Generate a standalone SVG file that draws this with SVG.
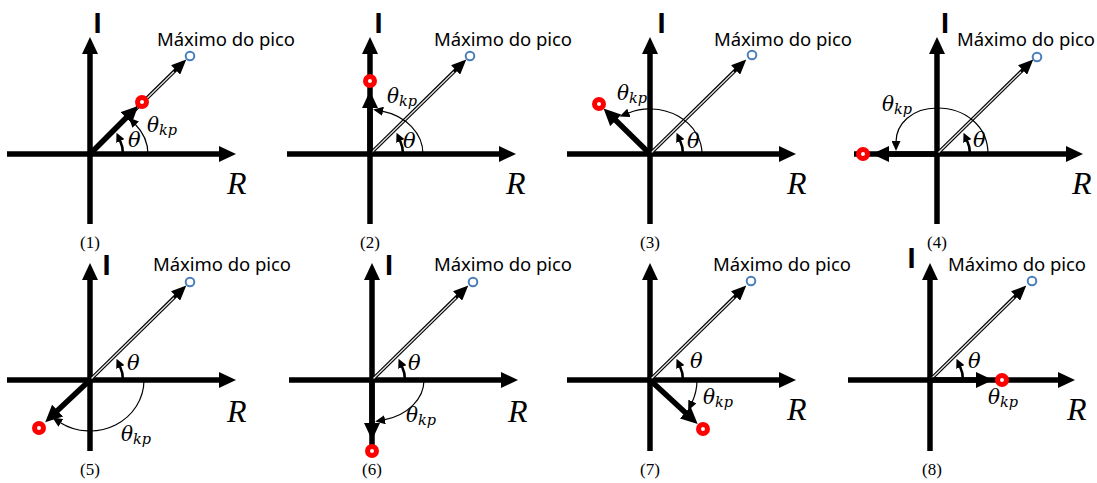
<svg xmlns="http://www.w3.org/2000/svg" width="1097" height="483" viewBox="0 0 1097 483">
<style>
.axis{stroke:#000;stroke-width:5.5;fill:none;marker-end:url(#ah)}
.vec{stroke:#000;stroke-width:5.5;fill:none;marker-end:url(#ah)}
.dblo{stroke:#000;stroke-width:3.6;fill:none;marker-end:url(#dh)}
.dbli{stroke:#e6e6e6;stroke-width:1.3;fill:none}
.th{stroke:#000;stroke-width:2.5;fill:none;marker-end:url(#sh)}
.thkp{stroke:#000;stroke-width:1.2;fill:none;marker-end:url(#kh)}
.peak{fill:#fff;stroke:#4a7ebb;stroke-width:2}
.pt{fill:#fff;stroke:#ff0000;stroke-width:5}
.lI{font-family:"Liberation Sans",sans-serif;font-size:29px;font-weight:bold;text-anchor:middle}
.pk{font-family:"Noto Sans","Liberation Sans",sans-serif;font-size:18.5px}
.R{font-family:"Liberation Serif",serif;font-style:italic;font-size:32px}
.num{font-family:"Liberation Serif",serif;font-size:17px;text-anchor:middle}
.g1{font-family:"DejaVu Serif","Liberation Serif",serif;font-style:italic;font-size:21px}
.g2{font-family:"DejaVu Serif","Liberation Serif",serif;font-style:italic;font-size:20px}
.sub{font-size:14.5px}
</style>
<defs>
<marker id="ah" viewBox="0 0 17 16" refX="3" refY="8" markerWidth="17" markerHeight="16" markerUnits="userSpaceOnUse" orient="auto"><path d="M0,0 L17,8 L0,16 z" fill="#000"/></marker>
<marker id="dh" viewBox="0 0 15 13" refX="2" refY="6.5" markerWidth="15" markerHeight="13" markerUnits="userSpaceOnUse" orient="auto"><path d="M0,0 L15,6.5 L0,13 z" fill="#000"/></marker>
<marker id="sh" viewBox="0 0 9 9" refX="1" refY="4.5" markerWidth="9" markerHeight="9" markerUnits="userSpaceOnUse" orient="auto"><path d="M0,0 L9,4.5 L0,9 z" fill="#000"/></marker>
<marker id="kh" viewBox="0 0 10 9" refX="1" refY="4.5" markerWidth="10" markerHeight="9" markerUnits="userSpaceOnUse" orient="auto"><path d="M0,0 L10,4.5 L0,9 z" fill="#000"/></marker>
</defs>
<rect width="1097" height="483" fill="#fff"/>

<!-- Panel 1 -->
<g id="panel1" transform="translate(90,154)">
<g id="p1-connectors">
<path class="axis" d="M0,70 L0,-103"/>
<path class="axis" d="M-83,0 L132,0"/>
<path class="dblo" d="M0,0 L87,-85.4"/>
<path class="dbli" d="M1.5,-1.5 L84,-82.3"/>
<path class="vec" d="M0,0 L38.2,-38.2"/>
<path class="th" d="M33,0 A33,33 0 0 0 29.9,-13.9"/>
<path class="thkp" d="M58,0 A58,48 0 0 0 45,-30"/>
</g>
<circle id="p1-peak" class="peak" cx="100" cy="-98" r="4.3"/>
<circle id="p1-point" class="pt" cx="52" cy="-52" r="4.5"/>
<text class="lI" x="7.5" y="-121">I</text>
<text class="pk" x="67" y="-108" textLength="138">Máximo do pico</text>
<text class="R" x="137" y="40">R</text>
<text class="g1" x="38" y="-7">θ</text>
<text class="g2" x="57" y="-22">θ<tspan class="sub" dy="3">kp</tspan></text>
<text class="num" x="0" y="94">(1)</text>
</g>

<!-- Panel 2 -->
<g id="panel2" transform="translate(370,154)">
<g id="p2-connectors">
<path class="axis" d="M0,70 L0,-103"/>
<path class="axis" d="M-83,0 L132,0"/>
<path class="dblo" d="M0,0 L87,-85.4"/>
<path class="dbli" d="M1.5,-1.5 L84,-82.3"/>
<path class="vec" d="M0,0 L0,-49"/>
<path class="th" d="M33,0 A33,33 0 0 0 29.9,-13.9"/>
<path class="thkp" d="M53,0 A53,44 0 0 0 12,-42.9"/>
</g>
<circle id="p2-peak" class="peak" cx="100" cy="-98" r="4.3"/>
<circle id="p2-point" class="pt" cx="0" cy="-73" r="4.5"/>
<text class="lI" x="8.5" y="-121">I</text>
<text class="pk" x="64" y="-108" textLength="138">Máximo do pico</text>
<text class="R" x="136" y="40">R</text>
<text class="g1" x="33" y="-6">θ</text>
<text class="g2" x="17" y="-51">θ<tspan class="sub" dy="3">kp</tspan></text>
<text class="num" x="0" y="94">(2)</text>
</g>

<!-- Panel 3 -->
<g id="panel3" transform="translate(650,154)">
<g id="p3-connectors">
<path class="axis" d="M0,70 L0,-103"/>
<path class="axis" d="M-83,0 L132,0"/>
<path class="dblo" d="M0,0 L87,-85.4"/>
<path class="dbli" d="M1.5,-1.5 L84,-82.3"/>
<path class="vec" d="M0,0 L-36.4,-35.7"/>
<path class="th" d="M33,0 A33,33 0 0 0 29.9,-13.9"/>
<path class="thkp" d="M52,0 A52,45 0 0 0 -22,-40.8"/>
</g>
<circle id="p3-peak" class="peak" cx="102" cy="-99" r="4.3"/>
<circle id="p3-point" class="pt" cx="-51" cy="-50" r="4.5"/>
<text class="lI" x="11.5" y="-121">I</text>
<text class="pk" x="64" y="-108" textLength="138">Máximo do pico</text>
<text class="R" x="137" y="40">R</text>
<text class="g1" x="37" y="-6">θ</text>
<text class="g2" x="-33" y="-54">θ<tspan class="sub" dy="3">kp</tspan></text>
<text class="num" x="0" y="94">(3)</text>
</g>

<!-- Panel 4 -->
<g id="panel4" transform="translate(937,154)">
<g id="p4-connectors">
<path class="axis" d="M0,70 L0,-103"/>
<path class="axis" d="M-83,0 L132,0"/>
<path class="dblo" d="M0,0 L87,-85.4"/>
<path class="dbli" d="M1.5,-1.5 L84,-82.3"/>
<path class="vec" d="M0,0 L-51,0"/>
<path class="th" d="M33,0 A33,33 0 0 0 29.9,-13.9"/>
<path class="thkp" d="M51,0 C51,-28 28,-46 0,-46 C-25,-46 -41,-30 -41,-12"/>
</g>
<circle id="p4-peak" class="peak" cx="100" cy="-97" r="4.3"/>
<circle id="p4-point" class="pt" cx="-74" cy="0" r="4.5"/>
<text class="lI" x="8" y="-121">I</text>
<text class="pk" x="20" y="-108" textLength="138">Máximo do pico</text>
<text class="R" x="135" y="40">R</text>
<text class="g1" x="36" y="-7">θ</text>
<text class="g2" x="-55" y="-43">θ<tspan class="sub" dy="3">kp</tspan></text>
<text class="num" x="0" y="94">(4)</text>
</g>

<!-- Panel 5 -->
<g id="panel5" transform="translate(90,380)">
<g id="p5-connectors">
<path class="axis" d="M0,71 L0,-103"/>
<path class="axis" d="M-83,0 L132,0"/>
<path class="dblo" d="M0,0 L87,-85.4"/>
<path class="dbli" d="M1.5,-1.5 L84,-82.3"/>
<path class="vec" d="M0,0 L-34.6,32.6"/>
<path class="th" d="M33,0 A33,33 0 0 0 29.9,-13.9"/>
<path class="thkp" d="M54,0 A54,51 0 0 1 -30,42.4"/>
</g>
<circle id="p5-peak" class="peak" cx="100" cy="-98" r="4.3"/>
<circle id="p5-point" class="pt" cx="-51" cy="48" r="4.5"/>
<text class="lI" x="16.5" y="-105">I</text>
<text class="pk" x="63" y="-109" textLength="138">Máximo do pico</text>
<text class="R" x="137" y="42">R</text>
<text class="g1" x="37" y="-10">θ</text>
<text class="g2" x="31" y="61">θ<tspan class="sub" dy="3">kp</tspan></text>
<text class="num" x="0" y="95">(5)</text>
</g>

<!-- Panel 6 -->
<g id="panel6" transform="translate(372,380)">
<g id="p6-connectors">
<path class="axis" d="M0,71 L0,-103"/>
<path class="axis" d="M-83,0 L132,0"/>
<path class="dblo" d="M0,0 L87,-85.4"/>
<path class="dbli" d="M1.5,-1.5 L84,-82.3"/>
<path class="vec" d="M0,0 L0,46"/>
<path class="th" d="M33,0 A33,33 0 0 0 29.9,-13.9"/>
<path class="thkp" d="M52,0 A52,41 0 0 1 12,39.9"/>
</g>
<circle id="p6-peak" class="peak" cx="101" cy="-98" r="4.3"/>
<circle id="p6-point" class="pt" cx="0" cy="71" r="4.5"/>
<text class="lI" x="17" y="-105">I</text>
<text class="pk" x="62" y="-109" textLength="138">Máximo do pico</text>
<text class="R" x="136" y="42">R</text>
<text class="g1" x="36" y="-10">θ</text>
<text class="g2" x="34" y="42">θ<tspan class="sub" dy="3">kp</tspan></text>
<text class="num" x="0" y="95">(6)</text>
</g>

<!-- Panel 7 -->
<g id="panel7" transform="translate(650,380)">
<g id="p7-connectors">
<path class="axis" d="M0,71 L0,-103"/>
<path class="axis" d="M-83,0 L132,0"/>
<path class="dblo" d="M0,0 L87,-85.4"/>
<path class="dbli" d="M1.5,-1.5 L84,-82.3"/>
<path class="vec" d="M0,0 L37.4,34.6"/>
<path class="th" d="M33,0 A33,33 0 0 0 29.9,-13.9"/>
<path class="thkp" d="M47,0 A47,50 0 0 1 42,22.4"/>
</g>
<circle id="p7-peak" class="peak" cx="101" cy="-99" r="4.3"/>
<circle id="p7-point" class="pt" cx="53" cy="49" r="4.5"/>
<text class="pk" x="63" y="-109" textLength="138">Máximo do pico</text>
<text class="R" x="137" y="40">R</text>
<text class="g1" x="40" y="-12">θ</text>
<text class="g2" x="53" y="24">θ<tspan class="sub" dy="3">kp</tspan></text>
<text class="num" x="0" y="95">(7)</text>
</g>

<!-- Panel 8 -->
<g id="panel8" transform="translate(930,380)">
<g id="p8-connectors">
<path class="axis" d="M0,71 L0,-103"/>
<path class="axis" d="M-82,0 L131,0"/>
<path class="dblo" d="M0,0 L87,-85.4"/>
<path class="dbli" d="M1.5,-1.5 L84,-82.3"/>
<path class="vec" d="M0,0 L49,0"/>
<path class="th" d="M33,0 A33,33 0 0 0 29.9,-13.9"/>
</g>
<circle id="p8-peak" class="peak" cx="102" cy="-99" r="4.3"/>
<circle id="p8-point" class="pt" cx="72" cy="0" r="4.5"/>
<text class="lI" x="-18.5" y="-112">I</text>
<text class="pk" x="18" y="-109" textLength="138">Máximo do pico</text>
<text class="R" x="137" y="40">R</text>
<text class="g1" x="38" y="-12">θ</text>
<text class="g2" x="58" y="24">θ<tspan class="sub" dy="3">kp</tspan></text>
<text class="num" x="2" y="95">(8)</text>
</g>
</svg>
